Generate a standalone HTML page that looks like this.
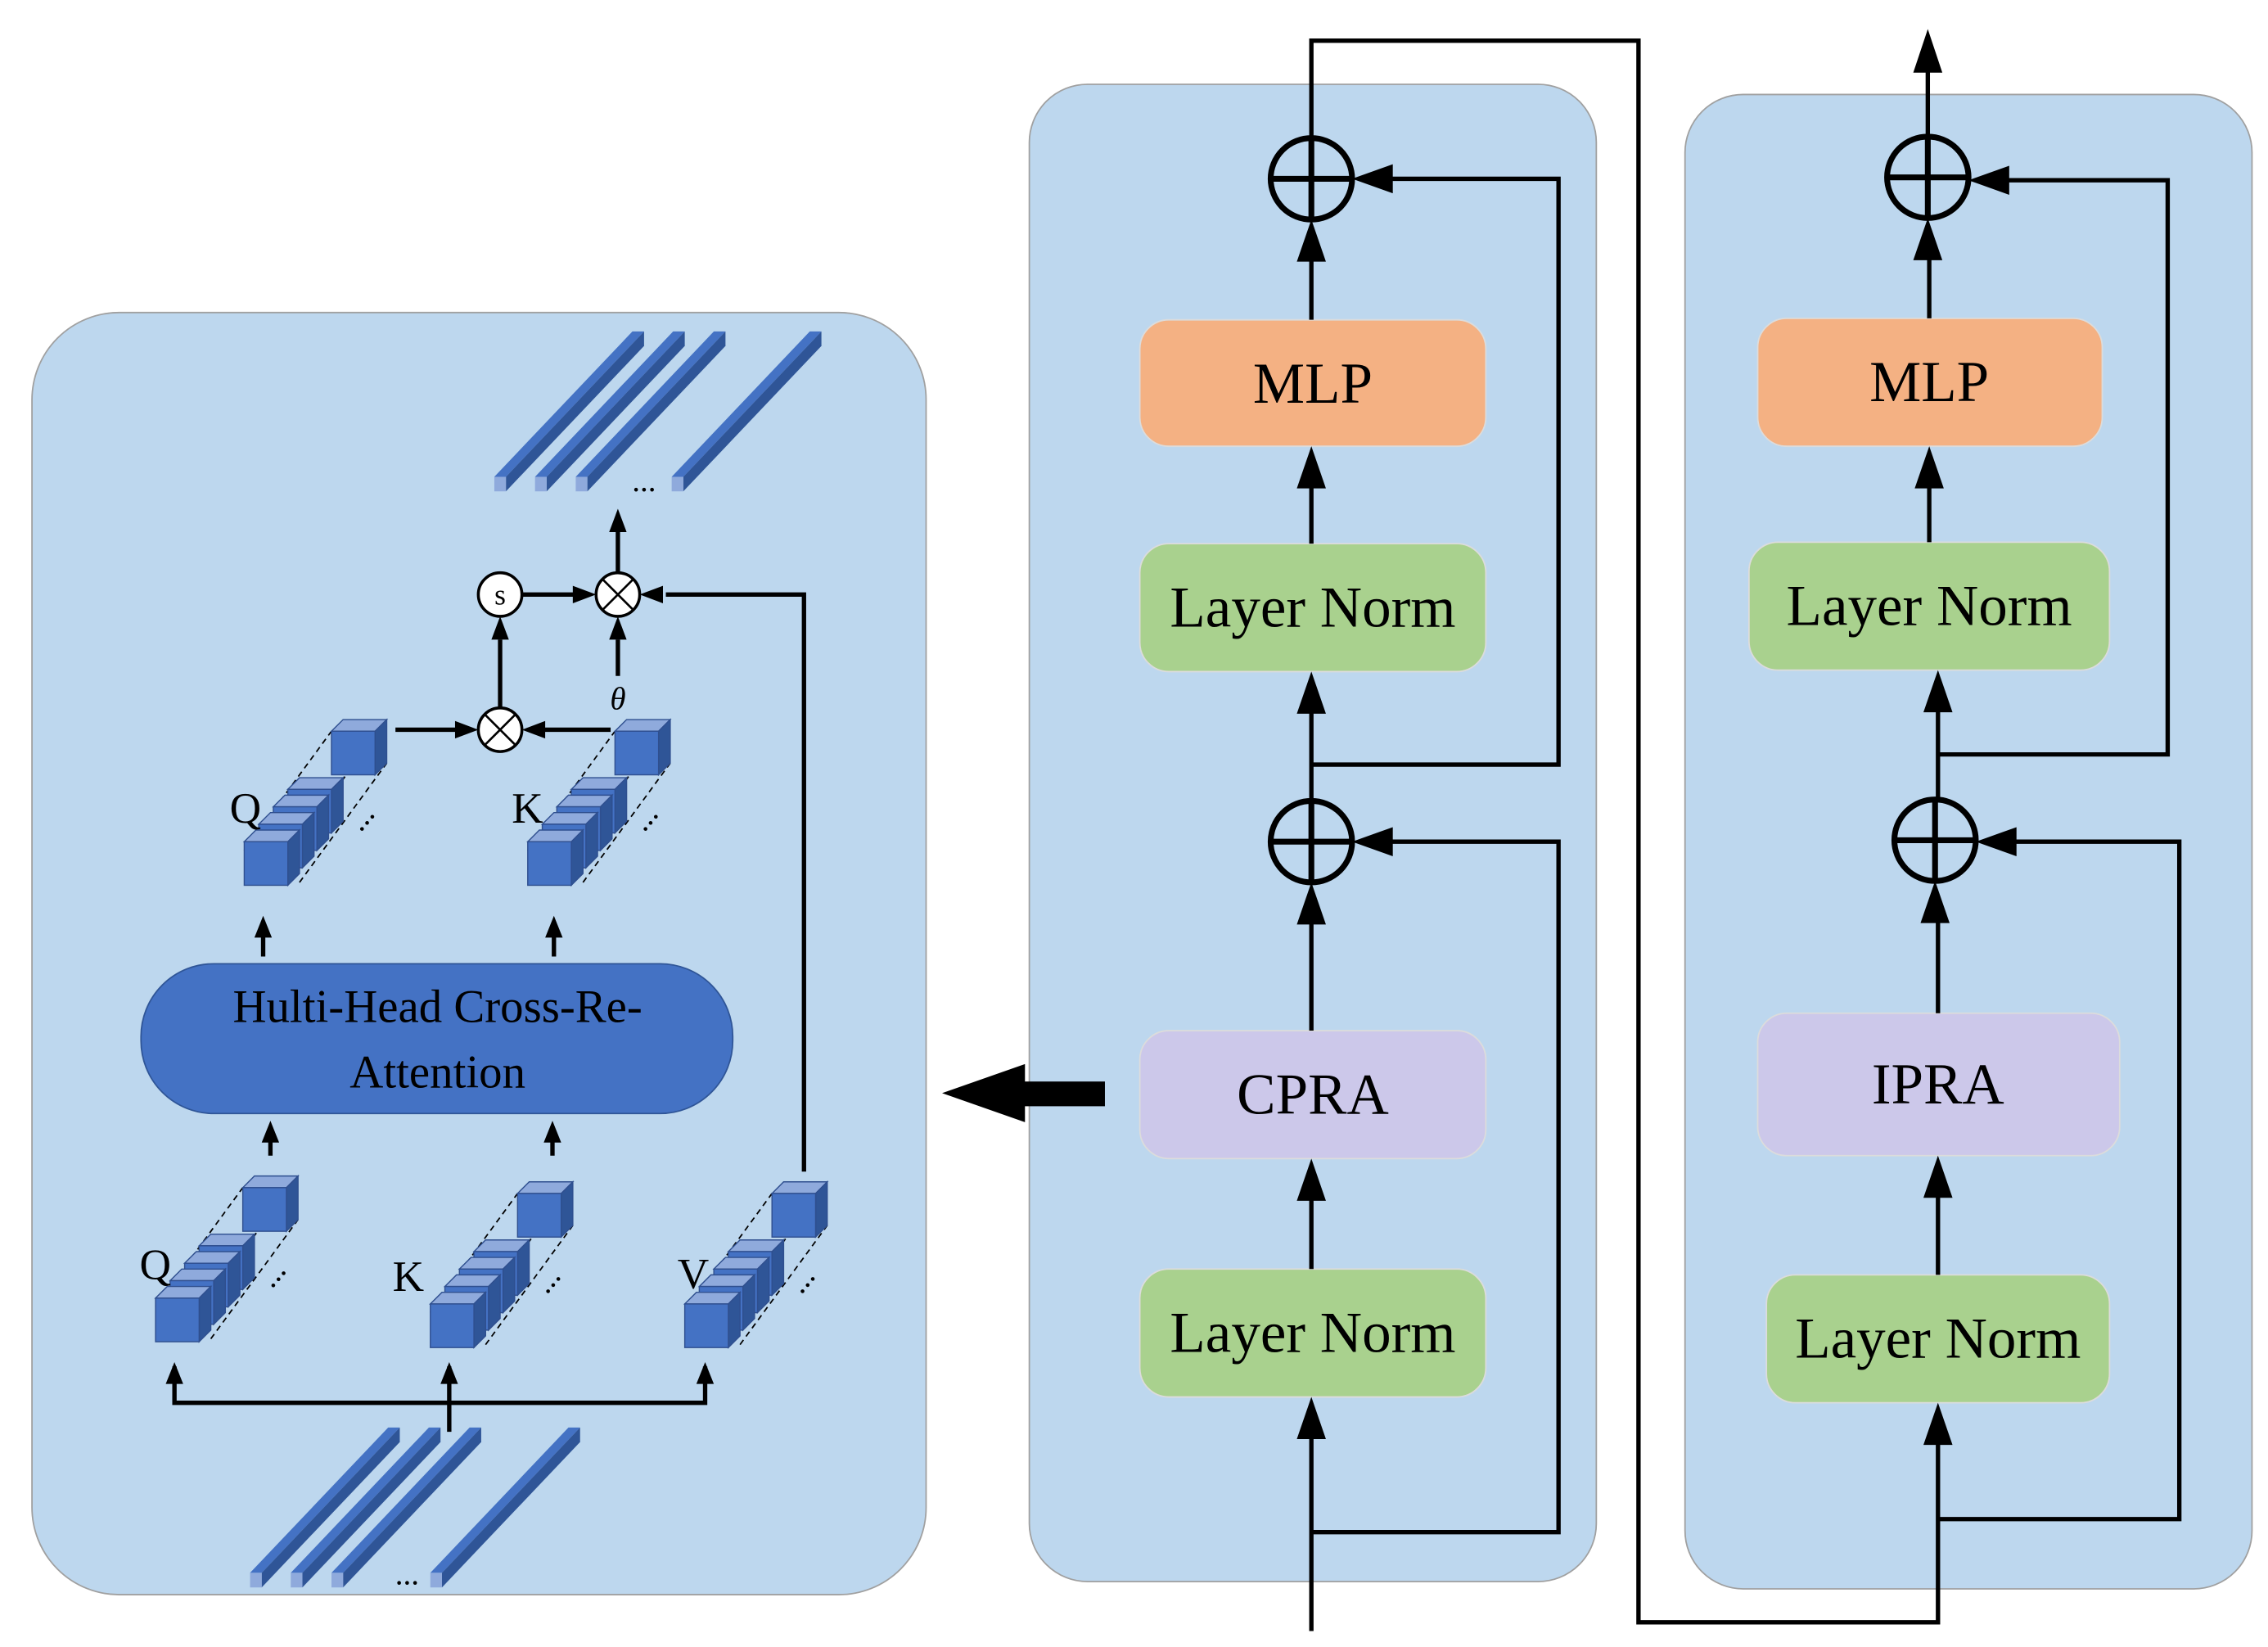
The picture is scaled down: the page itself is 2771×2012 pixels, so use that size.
<!DOCTYPE html>
<html><head><meta charset="utf-8"><style>
html,body{margin:0;padding:0;background:#fff;}
svg{display:block;}
text{font-family:"Liberation Serif",serif;}
</style></head><body>
<svg width="2771" height="2012" viewBox="0 0 1560 1133" preserveAspectRatio="none" xmlns="http://www.w3.org/2000/svg">
<defs>
<marker id="ah" markerWidth="8" markerHeight="8" refX="7" refY="4" orient="auto" markerUnits="userSpaceOnUse" viewBox="0 0 8 8">
</marker>
<g id="cube">
 <polygon points="0,0 8,-8 38,-8 30,0" fill="#8faadc" stroke="#2f4f8f" stroke-width="0.8"/>
 <polygon points="30,0 38,-8 38,22 30,30" fill="#2f5597" stroke="#2f4f8f" stroke-width="0.8"/>
 <rect x="0" y="0" width="30" height="30" fill="#4472c4" stroke="#2f4f8f" stroke-width="0.8"/>
</g>
<g id="stack">
 <line x1="0" y1="0" x2="60" y2="-82" stroke="#000" stroke-dasharray="4,3" stroke-width="1"/>
 <line x1="38" y1="-8" x2="98" y2="-90" stroke="#000" stroke-dasharray="4,3" stroke-width="1"/>
 <line x1="38" y1="22" x2="98" y2="-60" stroke="#000" stroke-dasharray="4,3" stroke-width="1"/>
 <use href="#cube" x="60" y="-82"/>
 <use href="#cube" x="30" y="-42"/>
 <use href="#cube" x="20" y="-30"/>
 <use href="#cube" x="10" y="-18"/>
 <use href="#cube" x="0" y="-6"/>
 <text x="80" y="-12" font-size="22" transform="rotate(-50 80 -12)">...</text>
</g>
<g id="strip">
 <polygon points="0,0 95,-100 103,-100 8,0" fill="#4472c4"/>
 <polygon points="8,0 103,-100 103,-90 8,10" fill="#2f5597"/>
 <polygon points="0,0 8,0 8,10 0,10" fill="#8faadc"/>
</g>
</defs>

<!-- panels -->
<rect x="22" y="215" width="615" height="882" rx="60" fill="#bdd7ee" stroke="#a0a0a0" stroke-width="1"/>
<rect x="708" y="58" width="390" height="1030" rx="40" fill="#bdd7ee" stroke="#a0a0a0" stroke-width="1"/>
<rect x="1159" y="65" width="390" height="1028" rx="40" fill="#bdd7ee" stroke="#a0a0a0" stroke-width="1"/>

<!-- middle boxes -->
<rect x="784" y="220" width="238" height="87" rx="20" fill="#f4b183" stroke="#dcdcdc"/>
<text x="903" y="277" font-size="40" text-anchor="middle">MLP</text>
<rect x="784" y="374" width="238" height="88" rx="20" fill="#a9d18e" stroke="#dcdcdc"/>
<text x="903" y="431" font-size="40" text-anchor="middle">Layer Norm</text>
<rect x="784" y="709" width="238" height="88" rx="20" fill="#ccc8ea" stroke="#dcdcdc"/>
<text x="903" y="766" font-size="40" text-anchor="middle">CPRA</text>
<rect x="784" y="873" width="238" height="88" rx="20" fill="#a9d18e" stroke="#dcdcdc"/>
<text x="903" y="930" font-size="40" text-anchor="middle">Layer Norm</text>

<!-- right boxes -->
<rect x="1209" y="219" width="237" height="88" rx="20" fill="#f4b183" stroke="#dcdcdc"/>
<text x="1327" y="276" font-size="40" text-anchor="middle">MLP</text>
<rect x="1203" y="373" width="248" height="88" rx="20" fill="#a9d18e" stroke="#dcdcdc"/>
<text x="1327" y="430" font-size="40" text-anchor="middle">Layer Norm</text>
<rect x="1209" y="697" width="249" height="98" rx="20" fill="#ccc8ea" stroke="#dcdcdc"/>
<text x="1333" y="759" font-size="40" text-anchor="middle">IPRA</text>
<rect x="1215" y="877" width="236" height="88" rx="20" fill="#a9d18e" stroke="#dcdcdc"/>
<text x="1333" y="934" font-size="40" text-anchor="middle">Layer Norm</text>

<g stroke="#000" stroke-width="3" fill="none">
 <!-- middle lines -->
 <polyline points="902,1122 902,985"/>
 <polyline points="902,1054 1072,1054 1072,579 955,579"/>
 <polyline points="902,873 902,822"/>
 <polyline points="902,709 902,632"/>
 <polyline points="902,551 902,487"/>
 <polyline points="902,526 1072,526 1072,123 955,123"/>
 <polyline points="902,374 902,332"/>
 <polyline points="902,220 902,176"/>
 <polyline points="902,95 902,28 1127,28 1127,1116 1333,1116 1333,990"/>
 <!-- right lines -->
 <polyline points="1333,1045 1499,1045 1499,579 1384,579"/>
 <polyline points="1333,877 1333,820"/>
 <polyline points="1333,697 1333,631"/>
 <polyline points="1333,550 1333,486"/>
 <polyline points="1333,519 1491,519 1491,124 1379,124"/>
 <polyline points="1327,373 1327,332"/>
 <polyline points="1327,219 1327,175"/>
 <polyline points="1326,94 1326,45"/>
 <!-- plus circles -->
 <circle cx="902" cy="123" r="28" stroke-width="4"/>
 <line x1="874" y1="123" x2="930" y2="123" stroke-width="4"/>
 <line x1="902" y1="95" x2="902" y2="151" stroke-width="4"/>
 <circle cx="902" cy="579" r="28" stroke-width="4"/>
 <line x1="874" y1="579" x2="930" y2="579" stroke-width="4"/>
 <line x1="902" y1="551" x2="902" y2="607" stroke-width="4"/>
 <circle cx="1326" cy="122" r="28" stroke-width="4"/>
 <line x1="1298" y1="122" x2="1354" y2="122" stroke-width="4"/>
 <line x1="1326" y1="94" x2="1326" y2="150" stroke-width="4"/>
 <circle cx="1331" cy="578" r="28" stroke-width="4"/>
 <line x1="1303" y1="578" x2="1359" y2="578" stroke-width="4"/>
 <line x1="1331" y1="550" x2="1331" y2="606" stroke-width="4"/>
</g>
<!-- arrowheads (up: tip at y) -->
<g fill="#000">
 <polygon points="902,961 892,990 912,990"/>
 <polygon points="930,579 958,569 958,589"/>
 <polygon points="902,797 892,826 912,826"/>
 <polygon points="902,607 892,636 912,636"/>
 <polygon points="902,462 892,491 912,491"/>
 <polygon points="930,123 958,113 958,133"/>
 <polygon points="902,307 892,336 912,336"/>
 <polygon points="902,151 892,180 912,180"/>
 <polygon points="1333,965 1323,994 1343,994"/>
 <polygon points="1359,579 1387,569 1387,589"/>
 <polygon points="1333,795 1323,824 1343,824"/>
 <polygon points="1331,606 1321,635 1341,635"/>
 <polygon points="1333,461 1323,490 1343,490"/>
 <polygon points="1354,124 1382,114 1382,134"/>
 <polygon points="1327,307 1317,336 1337,336"/>
 <polygon points="1326,150 1316,179 1336,179"/>
 <polygon points="1326,20 1316,50 1336,50"/>
 <!-- big arrow -->
 <rect x="700" y="744" width="60" height="17"/>
 <polygon points="648,752 705,732 705,772"/>
</g>

<!-- left panel content -->
<rect x="97" y="663" width="407" height="103" rx="50" fill="#4472c4" stroke="#2f5597"/>
<text x="301" y="703" font-size="32" text-anchor="middle">Hulti-Head Cross-Re-</text>
<text x="301" y="748" font-size="32" text-anchor="middle">Attention</text>

<!-- top strips -->
<use href="#strip" x="340" y="328"/>
<use href="#strip" x="368" y="328"/>
<use href="#strip" x="396" y="328"/>
<use href="#strip" x="462" y="328"/>
<text x="443" y="338" font-size="22" text-anchor="middle">...</text>
<!-- bottom strips -->
<use href="#strip" x="172" y="1082"/>
<use href="#strip" x="200" y="1082"/>
<use href="#strip" x="228" y="1082"/>
<use href="#strip" x="296" y="1082"/>
<text x="280" y="1090" font-size="22" text-anchor="middle">...</text>

<!-- stacks -->
<use href="#stack" x="168" y="585"/>
<use href="#stack" x="363" y="585"/>
<use href="#stack" x="107" y="899"/>
<use href="#stack" x="296" y="903"/>
<use href="#stack" x="471" y="903"/>
<g font-size="30">
<text x="158" y="566">Q</text>
<text x="352" y="566">K</text>
<text x="96" y="880">Q</text>
<text x="270" y="888">K</text>
<text x="466" y="886">V</text>
</g>

<g stroke="#000" stroke-width="3" fill="none">
 <polyline points="120,940 120,965 485,965 485,940"/>
 <polyline points="309,985 309,940"/>
 <line x1="181" y1="658" x2="181" y2="635"/>
 <line x1="381" y1="658" x2="381" y2="635"/>
 <line x1="186" y1="795" x2="186" y2="775"/>
 <line x1="380" y1="795" x2="380" y2="775"/>
 <polyline points="553,806 553,409 458,409"/>
 <line x1="272" y1="502" x2="316" y2="502"/>
 <line x1="420" y1="502" x2="372" y2="502"/>
 <line x1="344" y1="487" x2="344" y2="440"/>
 <line x1="359" y1="409" x2="396" y2="409"/>
 <line x1="425" y1="465" x2="425" y2="440"/>
 <line x1="425" y1="394" x2="425" y2="365"/>
</g>
<g fill="#000">
 <polygon points="120,937 114,952 126,952"/>
 <polygon points="485,937 479,952 491,952"/>
 <polygon points="309,937 303,952 315,952"/>
 <polygon points="181,630 175,645 187,645"/>
 <polygon points="381,630 375,645 387,645"/>
 <polygon points="186,771 180,786 192,786"/>
 <polygon points="380,771 374,786 386,786"/>
 <polygon points="440,409 456,403 456,415"/>
 <polygon points="329,502 313,496 313,508"/>
 <polygon points="359,502 375,496 375,508"/>
 <polygon points="344,424 338,440 350,440"/>
 <polygon points="410,409 394,403 394,415"/>
 <polygon points="425,424 419,440 431,440"/>
 <polygon points="425,350 419,366 431,366"/>
</g>
<g stroke="#000" stroke-width="2" fill="#fff">
 <circle cx="344" cy="409" r="15"/>
 <circle cx="425" cy="409" r="15"/>
 <circle cx="344" cy="502" r="15"/>
</g>
<text x="344" y="416" font-size="20" text-anchor="middle">s</text>
<g stroke="#000" stroke-width="1.5">
 <line x1="415" y1="399" x2="435" y2="419"/><line x1="435" y1="399" x2="415" y2="419"/>
 <line x1="334" y1="492" x2="354" y2="512"/><line x1="354" y1="492" x2="334" y2="512"/>
</g>
<text x="425" y="488" font-size="22" font-style="italic" text-anchor="middle">θ</text>
</svg>
</body></html>
